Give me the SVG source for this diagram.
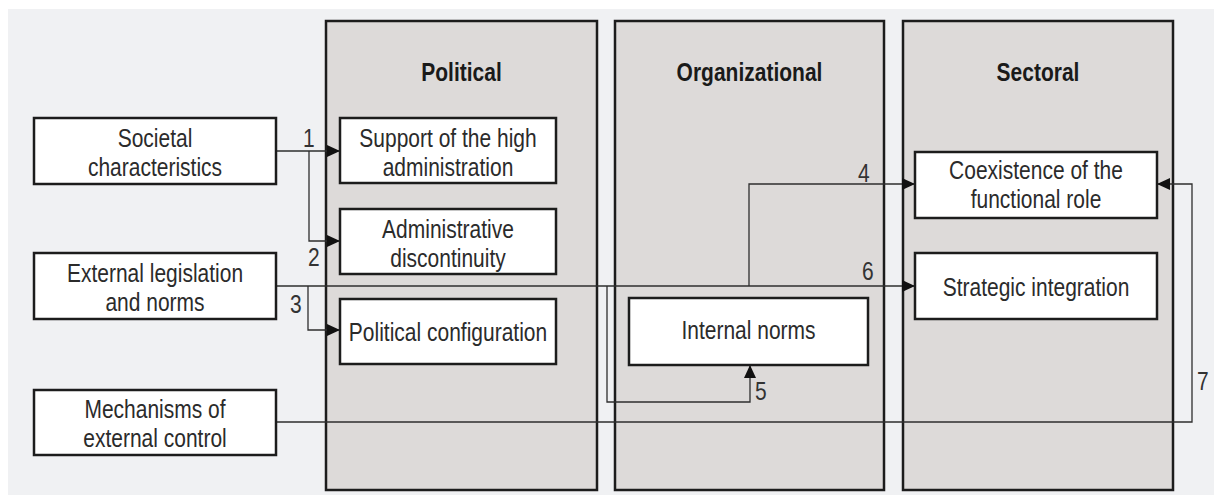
<svg xmlns="http://www.w3.org/2000/svg" width="1214" height="495" viewBox="0 0 1214 495">
  <style>
    .bg { fill: #f0f1f3; }
    .panel { fill: #dddad9; stroke: #1c1c1c; stroke-width: 2.5; }
    .box { fill: #ffffff; stroke: #1c1c1c; stroke-width: 2.5; }
    .t { font-family: 'Liberation Sans', Arial, sans-serif; font-size: 25px; fill: #2b2b2b; text-anchor: middle; }
    .title { font-weight: bold; fill: #1a1a1a; }
    .num { text-anchor: start; fill: #333333; }
    .wire { fill: none; stroke: #2e2e2e; stroke-width: 1.3; }
  </style>
  <defs>
    <marker id="arrow" markerUnits="userSpaceOnUse" markerWidth="13" markerHeight="12" refX="13" refY="6" orient="auto">
      <path d="M0,0 L13,6 L0,12 z" fill="#111111"/>
    </marker>
  </defs>

  <rect class="bg" x="8" y="9" width="1206" height="486"/>

  <!-- columns (text is set in a condensed cut: scale 0.84 horizontally) -->
  <g id="col-political">
    <rect class="panel" x="326" y="21" width="271" height="469"/>
    <text class="t title" transform="translate(461.5 81) scale(0.84 1)">Political</text>
  </g>
  <g id="col-organizational">
    <rect class="panel" x="615" y="21" width="269" height="469"/>
    <text class="t title" transform="translate(749.5 81) scale(0.84 1)">Organizational</text>
  </g>
  <g id="col-sectoral">
    <rect class="panel" x="903" y="21" width="270" height="469"/>
    <text class="t title" transform="translate(1038 81) scale(0.84 1)">Sectoral</text>
  </g>

  <!-- connectors -->
  <g id="connectors">
    <path class="wire" d="M276,151 H340" marker-end="url(#arrow)"/>
    <path class="wire" d="M309,151 V241 H340" marker-end="url(#arrow)"/>
    <path class="wire" d="M276,286 H915" marker-end="url(#arrow)"/>
    <path class="wire" d="M308,286 V330 H340" marker-end="url(#arrow)"/>
    <path class="wire" d="M607,286 V402 H750 V365" marker-end="url(#arrow)"/>
    <path class="wire" d="M749,286 V184 H915" marker-end="url(#arrow)"/>
    <path class="wire" d="M276,422 H1192 V184 H1157" marker-end="url(#arrow)"/>
    <text class="t num" transform="translate(303 147) scale(0.84 1)">1</text>
    <text class="t num" transform="translate(308 266) scale(0.84 1)">2</text>
    <text class="t num" transform="translate(290 313) scale(0.84 1)">3</text>
    <text class="t num" transform="translate(858 182) scale(0.84 1)">4</text>
    <text class="t num" transform="translate(755 400) scale(0.84 1)">5</text>
    <text class="t num" transform="translate(862 280) scale(0.84 1)">6</text>
    <text class="t num" transform="translate(1197 390) scale(0.84 1)">7</text>
  </g>

  <!-- external factors -->
  <g id="societal">
    <rect class="box" x="34" y="118" width="242" height="66"/>
    <text class="t" transform="translate(155 147) scale(0.84 1)">Societal</text>
    <text class="t" transform="translate(155 176) scale(0.84 1)">characteristics</text>
  </g>
  <g id="legislation">
    <rect class="box" x="34" y="253" width="242" height="66"/>
    <text class="t" transform="translate(155 282) scale(0.84 1)">External legislation</text>
    <text class="t" transform="translate(155 311) scale(0.84 1)">and norms</text>
  </g>
  <g id="control">
    <rect class="box" x="34" y="390" width="242" height="65"/>
    <text class="t" transform="translate(155 418) scale(0.84 1)">Mechanisms of</text>
    <text class="t" transform="translate(155 447) scale(0.84 1)">external control</text>
  </g>

  <!-- political factors -->
  <g id="support">
    <rect class="box" x="340" y="118" width="216" height="65"/>
    <text class="t" transform="translate(448 147) scale(0.84 1)">Support of the high</text>
    <text class="t" transform="translate(448 176) scale(0.84 1)">administration</text>
  </g>
  <g id="discontinuity">
    <rect class="box" x="340" y="209" width="216" height="65"/>
    <text class="t" transform="translate(448 238) scale(0.84 1)">Administrative</text>
    <text class="t" transform="translate(448 267) scale(0.84 1)">discontinuity</text>
  </g>
  <g id="configuration">
    <rect class="box" x="340" y="299" width="216" height="65"/>
    <text class="t" transform="translate(448 341) scale(0.84 1)">Political configuration</text>
  </g>

  <!-- organizational factors -->
  <g id="internal-norms">
    <rect class="box" x="629" y="298" width="239" height="67"/>
    <text class="t" transform="translate(748.5 339) scale(0.84 1)">Internal norms</text>
  </g>

  <!-- sectoral factors -->
  <g id="coexistence">
    <rect class="box" x="915" y="152" width="242" height="66"/>
    <text class="t" transform="translate(1036 179) scale(0.84 1)">Coexistence of the</text>
    <text class="t" transform="translate(1036 208) scale(0.84 1)">functional role</text>
  </g>
  <g id="integration">
    <rect class="box" x="915" y="253" width="242" height="66"/>
    <text class="t" transform="translate(1036 296) scale(0.84 1)">Strategic integration</text>
  </g>
</svg>
